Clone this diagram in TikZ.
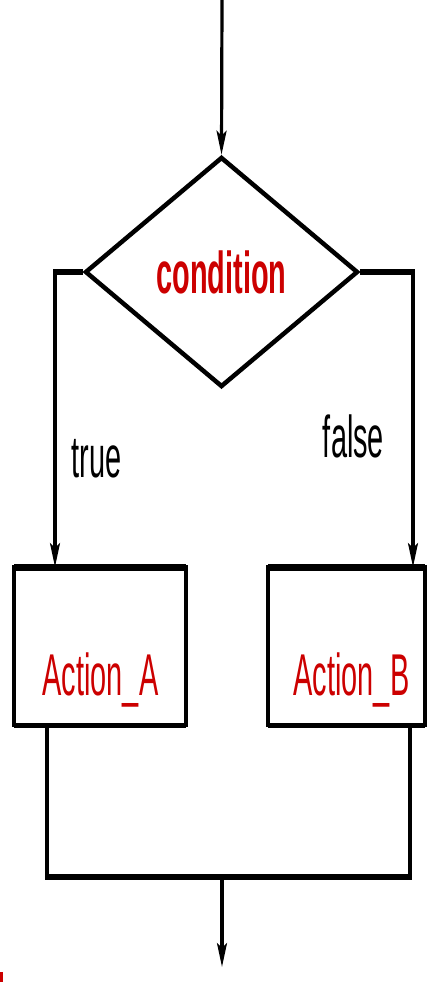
\documentclass[tikz,border=0pt]{standalone}
\usepackage{fontspec}
\setmainfont{Liberation Sans}
\usepackage{graphicx}
\usetikzlibrary{shapes.geometric,arrows.meta}
\definecolor{txtred}{RGB}{204,0,0}
\newcommand{\squeeze}[1]{\scalebox{0.49}[1]{#1}}
\begin{document}
\begin{tikzpicture}[x=1pt,y=-1pt,
  vl/.style={line width=3.2pt},
  hl/.style={line width=6pt},
  arr/.style={-{Stealth[length=24pt,width=10pt,inset=5pt]}},
  lbl/.style={font=\fontsize{59}{62}\selectfont, inner sep=0pt, anchor=base},
  redlbl/.style={lbl,text=txtred},
  actbox/.style={draw, rectangle, line width=3.5pt, inner sep=0pt, outer sep=0pt},
  boxtop/.style={line width=7pt},
  boxbot/.style={line width=5pt}
]
\useasboundingbox (0,0) rectangle (433,982);

% coordinates for connector columns
\coordinate (start) at (222,0);
\coordinate (colL) at (55,0);
\coordinate (colR) at (413,0);
\coordinate (dropA) at (47,0);
\coordinate (dropB) at (410,0);
\coordinate (join) at (222,877);
\coordinate (end) at (222,967);

% decision
\node[diamond, draw, line width=4.5pt, minimum width=273pt, minimum height=230pt,
      inner sep=0pt, font=\fontsize{59}{62}\selectfont, text=txtred]
  (cond) at (221.5,272) {\squeeze{\bfseries condition}};

% action boxes
\node[actbox, minimum width=172pt, minimum height=158pt] (boxA) at (100,646) {};
\node[actbox, minimum width=157pt, minimum height=158pt] (boxB) at (346.5,646) {};
\draw[boxtop] (boxA.north west) -- (boxA.north east);
\draw[boxbot] (boxA.south west) -- (boxA.south east);
\draw[boxtop] (boxB.north west) -- (boxB.north east);
\draw[boxbot] (boxB.south west) -- (boxB.south east);

% texts
\node[redlbl] (ta) at (100.5,695) {\squeeze{Action\_A}};
\node[redlbl] (tb) at (351.5,695) {\squeeze{Action\_B}};
\node[lbl] (tt) at (96.5,477) {\squeeze{true}};
\node[lbl] (tf) at (353.5,457) {\squeeze{false}};

% connectors
\draw[vl,arr] (start) -- (cond.north);
\draw[vl,arr] (cond.west) -| (boxA.north -| colL);
\draw[hl] (cond.west) -- ([xshift=-1.6pt]cond.west -| colL);
\draw[vl,arr] (cond.east) -| (boxB.north -| colR);
\draw[hl] (cond.east) -- ([xshift=1.6pt]cond.east -| colR);

\draw[vl] (boxA.south -| dropA) -- (join -| dropA);
\draw[vl] (boxB.south -| dropB) -- (join -| dropB);
\draw[hl] ([xshift=-1.6pt]join -| dropA) -- ([xshift=1.6pt]join -| dropB);
\draw[vl,arr] (join) -- (end);

% small red mark at bottom left
\fill[txtred] (0,972) rectangle (3,982);
\end{tikzpicture}
\end{document}
